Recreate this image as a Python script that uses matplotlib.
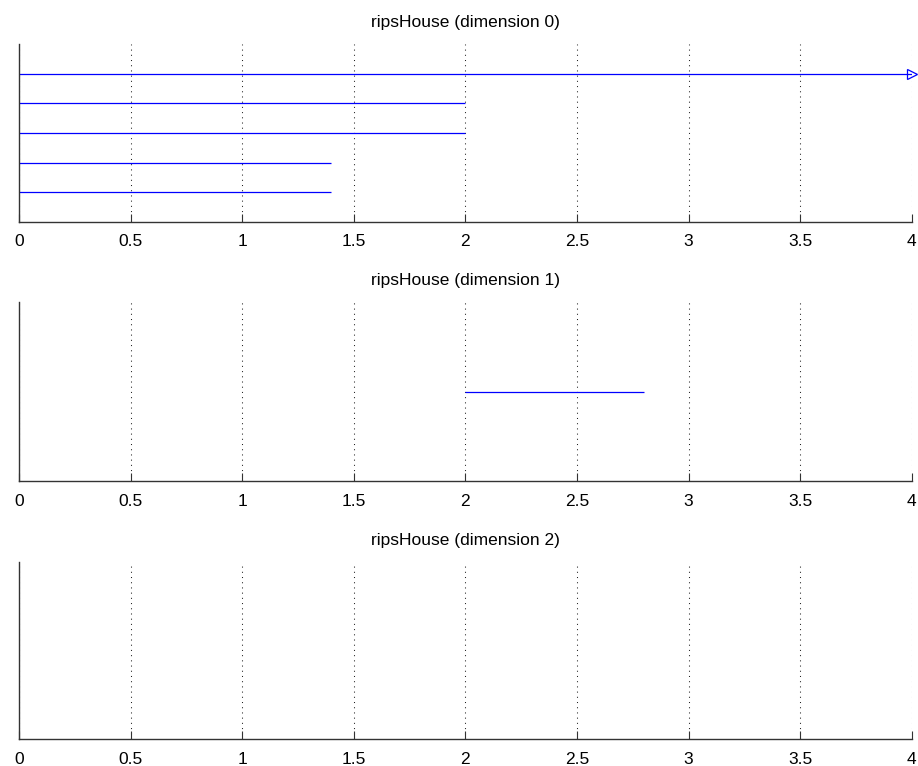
import numpy as np
import matplotlib
matplotlib.use("Agg")
import matplotlib.pyplot as plt

plt.rcParams["font.family"] = ["Liberation Sans", "DejaVu Sans"]

# barcode intervals (birth, death), np.inf = never dies
dim0_birth = [0, 0, 0, 0, 0]
dim0_death = [np.inf, 2, 2, 1.4, 1.4]
dim1_birth = [2]
dim1_death = [2.8]
dim2_birth = []
dim2_death = []

titles = ["ripsHouse (dimension 0)", "ripsHouse (dimension 1)", "ripsHouse (dimension 2)"]
xmax = 4
xticks = [0, 0.5, 1, 1.5, 2, 2.5, 3, 3.5, 4]
xticklabels = ["0", "0.5", "1", "1.5", "2", "2.5", "3", "3.5", "4"]

bars = [(dim0_birth, dim0_death), (dim1_birth, dim1_death), (dim2_birth, dim2_death)]


def barcode(ax, births, deaths, title):
    n = len(births)
    for i, (b, d) in enumerate(zip(births, deaths)):
        y = n - i
        if np.isinf(d):
            ax.plot([b, xmax], [y, y], color="#0000ff", lw=0.9, solid_capstyle="butt")
            ax.plot([xmax], [y], marker=">", mfc="none", mec="#0000ff", ms=7, mew=0.9,
                    clip_on=False)
        else:
            ax.plot([b, d], [y, y], color="#0000ff", lw=0.9, solid_capstyle="butt")
    ax.set_xlim(0, xmax)
    ax.set_ylim(0, n + 1)
    ax.set_xticks(xticks)
    ax.set_xticklabels(xticklabels)
    ax.set_yticks([])
    ax.tick_params(axis="x", direction="in", length=6, width=0.8, pad=9,
                   labelsize=12.5, color="#333333")
    # sparse dotted grid, like MATLAB's ':' gridlines
    ax.grid(axis="x", linestyle=(0, (1, 4)), color="#222222", lw=0.75)
    ax.set_axisbelow(True)
    for s in ["top", "right"]:
        ax.spines[s].set_visible(False)
    for s in ["left", "bottom"]:
        ax.spines[s].set_color("#333333")
        ax.spines[s].set_linewidth(1.0)
    ax.set_title(title, fontsize=12.5, pad=12)


fig = plt.figure(figsize=(9.18, 7.66), dpi=100)
W, H = 918, 766
left, right = 19, 911.7
tops = [44, 302, 562]
bottoms = [222, 481, 739]
for k in range(3):
    ax = fig.add_axes([left / W, 1 - bottoms[k] / H, (right - left) / W,
                       (bottoms[k] - tops[k]) / H])
    barcode(ax, bars[k][0], bars[k][1], titles[k])

fig.savefig("out.png", dpi=100)
